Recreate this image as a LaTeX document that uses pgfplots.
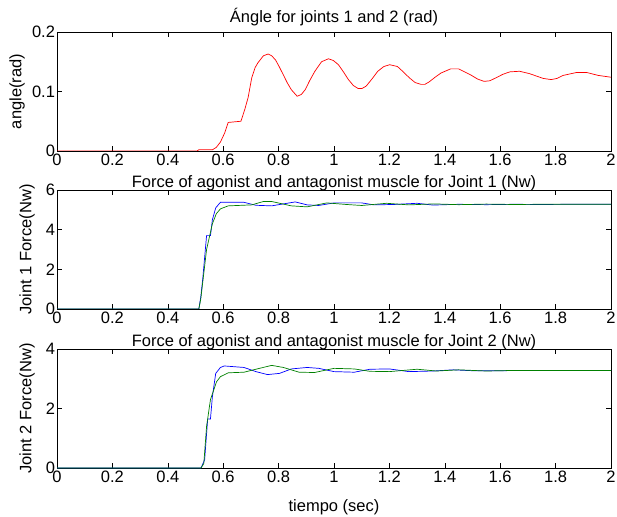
\documentclass[border=0pt]{standalone}
\usepackage{pgfplots}
\pgfplotsset{compat=1.18}
\usepackage{fontspec}
\setmainfont{Liberation Sans}

\definecolor{mred}{rgb}{1,0,0}
\definecolor{mblue}{rgb}{0,0,1}
\definecolor{mgreen}{rgb}{0,0.5,0}

\pgfplotsset{
  mat/.style={
    scale only axis,
    width=554pt, height=119pt,
    xmin=0, xmax=2,
    xtick={0,0.2,...,2},
    tick align=inside,
    major tick length=5pt,
    axis line style={line width=0.6pt},
    every tick/.style={black, line width=0.6pt},
    font=\fontsize{16.5}{19}\selectfont,
    /pgf/number format/assume math mode=true,
    xticklabel style={yshift=0.5pt},
    yticklabel style={xshift=1.5pt},
    title style={anchor=base, at={(axis description cs:0.5,1)}, yshift=-3pt},
    ylabel style={anchor=center, at={(axis description cs:-0.054,0.5)}},
  }
}

\begin{document}
\begin{tikzpicture}
\useasboundingbox (0,0) rectangle (617pt,516pt);

% top: joint angle
\begin{axis}[mat, at={(57pt,365pt)}, anchor=south west,
  ymin=0, ymax=0.2, ytick={0,0.1,0.2},
  yticklabel style={/pgf/number format/fixed},
  title={Ángle for joints 1 and 2 (rad)},
  title style={yshift=6pt},
  ylabel={angle(rad)},
  ylabel style={at={(axis description cs:-0.072,0.5)}}]
\addplot[mred, line width=0.7pt] coordinates {
(0,0) (0.505,0) (0.512,0.002) (0.561,0.002) (0.575,0.006) (0.59,0.015) (0.605,0.030)
(0.618,0.048) (0.664,0.050) (0.678,0.070) (0.69,0.090) (0.703,0.123) (0.715,0.140) (0.725,0.148)
(0.745,0.160) (0.762,0.163) (0.775,0.160) (0.789,0.153) (0.803,0.141) (0.817,0.128) (0.832,0.114)
(0.846,0.103) (0.867,0.092) (0.882,0.095) (0.896,0.103) (0.913,0.119) (0.931,0.134) (0.955,0.150)
(0.98,0.155) (0.998,0.152) (1.016,0.145) (1.034,0.133) (1.052,0.120) (1.070,0.110)
(1.087,0.105) (1.101,0.105) (1.116,0.109) (1.137,0.121) (1.158,0.134) (1.18,0.142) (1.201,0.145)
(1.229,0.142) (1.250,0.133) (1.272,0.123) (1.293,0.115)
(1.314,0.112) (1.328,0.112) (1.343,0.116) (1.365,0.124) (1.386,0.131) (1.421,0.138) (1.45,0.138) (1.493,0.128)
(1.518,0.121) (1.542,0.117) (1.562,0.118) (1.585,0.123) (1.610,0.129) (1.635,0.133) (1.67,0.134) (1.706,0.130) (1.755,0.122)
(1.784,0.120) (1.805,0.122) (1.827,0.127) (1.876,0.132) (1.912,0.132) (1.954,0.127) (2.0,0.124)
};
\end{axis}

% middle: joint 1 forces
\begin{axis}[mat, at={(57pt,207pt)}, anchor=south west,
  ymin=0, ymax=6, ytick={0,2,4,6},
  title={Force of agonist and antagonist muscle for Joint 1 (Nw)},
  ylabel={Joint 1 Force(Nw)}]
\addplot[mblue, line width=0.7pt] coordinates {
(0,0) (0.512,0) (0.519,0.6) (0.526,1.5) (0.54,3.7) (0.554,3.7) (0.561,4.5) (0.573,5.1)
(0.59,5.38) (0.675,5.38) (0.718,5.23) (0.775,5.2) (0.817,5.3) (0.86,5.4) (0.903,5.25)
(0.945,5.22) (1.0,5.35) (1.10,5.35) (1.144,5.25) (1.215,5.27) (1.30,5.33) (1.357,5.24)
(1.45,5.28) (1.55,5.26) (1.65,5.28) (1.75,5.27) (1.85,5.28) (2.0,5.28)
};
\addplot[mgreen, line width=0.7pt] coordinates {
(0,0) (0.512,0) (0.519,0.5) (0.54,3.0) (0.561,4.3) (0.575,4.8) (0.59,5.05) (0.618,5.2)
(0.703,5.25) (0.745,5.42) (0.775,5.42) (0.846,5.2) (0.903,5.15) (0.974,5.35) (1.045,5.27)
(1.10,5.22) (1.19,5.33) (1.27,5.25) (1.36,5.3) (1.45,5.26) (1.55,5.29) (1.65,5.27)
(1.75,5.28) (2.0,5.28)
};
\end{axis}

% bottom: joint 2 forces
\begin{axis}[mat, at={(57pt,48pt)}, anchor=south west,
  ymin=0, ymax=4, ytick={0,2,4},
  title={Force of agonist and antagonist muscle for Joint 2 (Nw)},
  ylabel={Joint 2 Force(Nw)},
  xlabel={tiempo (sec)},
  xlabel style={anchor=center, at={(axis description cs:0.5,-0.33)}}]
\addplot[mblue, line width=0.7pt] coordinates {
(0,0) (0.52,0) (0.533,0.28) (0.544,1.65) (0.554,1.65) (0.561,2.4) (0.573,3.18) (0.59,3.38)
(0.604,3.43) (0.675,3.38) (0.718,3.24) (0.76,3.14) (0.803,3.18) (0.846,3.33) (0.903,3.38)
(0.945,3.35) (1.0,3.24) (1.073,3.22) (1.13,3.32) (1.20,3.33) (1.27,3.24) (1.357,3.26)
(1.43,3.30) (1.50,3.27) (1.60,3.27) (1.70,3.28) (2.0,3.28)
};
\addplot[mgreen, line width=0.7pt] coordinates {
(0,0) (0.52,0) (0.53,0.15) (0.54,1.4) (0.554,2.3) (0.576,2.9) (0.59,3.07) (0.618,3.2)
(0.675,3.22) (0.718,3.32) (0.775,3.45) (0.817,3.38) (0.874,3.22) (0.93,3.21) (1.0,3.35)
(1.073,3.33) (1.13,3.25) (1.20,3.24) (1.30,3.32) (1.37,3.26) (1.45,3.30) (1.55,3.26)
(1.65,3.28) (2.0,3.28)
};
\end{axis}
\end{tikzpicture}
\end{document}
